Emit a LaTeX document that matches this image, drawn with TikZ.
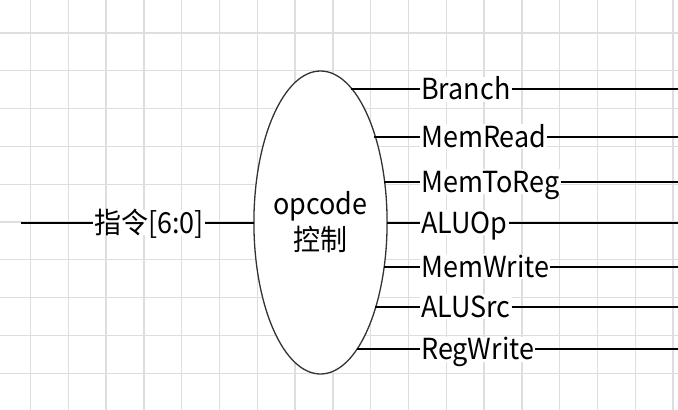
\documentclass[tikz,border=0pt]{standalone}
\usepackage{fontspec}
\setmainfont{Noto Sans CJK SC}[FakeStretch=0.93]
\usetikzlibrary{shapes.geometric}

\tikzset{
  gridline/.style={draw=black!13, line width=1.3pt},
  wire/.style={draw=black, line width=2pt},
  sig/.style={fill=white, inner xsep=1pt, inner ysep=2pt, text height=21pt, text depth=0pt,
    font=\fontsize{29}{32}\selectfont},
  ctrlunit/.style={ellipse, draw=black!80, line width=1.3pt, fill=white,
    minimum width=124pt, minimum height=303pt, inner sep=0pt, outer sep=0pt,
    align=center, font=\fontsize{29}{36}\selectfont}
}

\begin{document}
\begin{tikzpicture}[x=1pt,y=-1pt]
    \useasboundingbox (0,0) rectangle (678,410);
    \fill[white] (0,0) rectangle (678,410);

    % Background grid
    \foreach \gx in {0,...,17}
        \draw[gridline] (30.5+37.8*\gx,0) -- ++(0,410);
    \foreach \gy in {0,...,9}
        \draw[gridline] (0,33+37.8*\gy) -- ++(678,0);

    % Control unit
    \node[ctrlunit] (ctrl) at (320.5,222.5) {opcode\\控制};

    % Instruction input
    \coordinate (instrin) at (21,222.5);
    \node[sig] (instr) at (149,222.5) {指令[6:0]};
    \draw[wire] (instrin) -- (instr) -- (ctrl);

    % Control signals
    \foreach \name/\label/\yy in {branch/Branch/89, memread/MemRead/136.7,
        memtoreg/MemToReg/181.7, aluop/ALUOp/222.7, memwrite/MemWrite/266.7,
        alusrc/ALUSrc/306.7, regwrite/RegWrite/349} {
        \pgfmathsetmacro\dy{222.5-\yy}
        \pgfmathsetmacro\dx{62*sqrt(1-(\dy/151.5)^2)}
        \pgfmathsetmacro\ang{atan2(\dy,\dx)}
        \node[sig, anchor=west] (\name) at (420,\yy) {\label};
        \coordinate (\name out) at (678,\yy);
        \draw[wire] (\name.west -| ctrl.\ang) -- (\name.west);
        \draw[wire] (\name.east) -- (\name out);
    }
\end{tikzpicture}
\end{document}
